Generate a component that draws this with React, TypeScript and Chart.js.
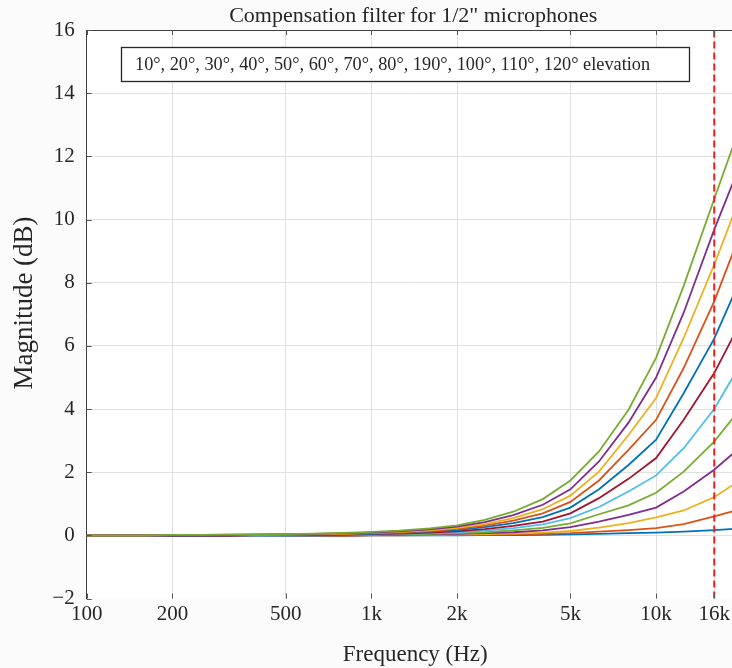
import React, { useEffect, useRef } from 'react';
import { Chart, registerables } from 'chart.js';

Chart.register(...registerables);

// Third-octave centre frequencies (Hz)
const frequencies = [100, 125, 160, 200, 250, 315, 400, 500, 630, 800, 1000, 1250, 1600, 2000, 2500, 3150, 4000, 5000, 6300, 8000, 10000, 12500, 16000, 20000];

const elevationLabels = ['10°', '20°', '30°', '40°', '50°', '60°', '70°', '80°', '190°', '100°', '110°', '120°'];

// Magnitude (dB) per elevation
const mag10 = [0, 0, 0, 0, -0.01, -0.01, -0.01, -0.01, -0.01, -0.01, 0, 0, 0, 0, 0.01, 0.01, 0.02, 0.03, 0.05, 0.07, 0.09, 0.12, 0.17, 0.22];
const mag20 = [0, 0, 0, 0, -0.02, -0.02, -0.02, -0.02, -0.01, -0.01, 0, 0, 0.01, 0.01, 0.02, 0.03, 0.05, 0.07, 0.12, 0.17, 0.23, 0.36, 0.6, 0.84];
const mag30 = [0, 0, 0, -0.02, -0.02, -0.02, -0.02, -0.02, -0.01, 0, 0.01, 0.01, 0.02, 0.03, 0.04, 0.06, 0.09, 0.14, 0.25, 0.39, 0.57, 0.79, 1.21, 1.79];
const mag40 = [0, 0, 0, -0.02, -0.02, -0.02, -0.02, -0.02, -0.01, 0, 0.01, 0.02, 0.03, 0.05, 0.07, 0.1, 0.16, 0.26, 0.44, 0.65, 0.88, 1.39, 2.08, 2.83];
const mag50 = [0, 0, 0, 0, -0.01, -0.01, -0.01, 0, 0, 0.01, 0.02, 0.03, 0.05, 0.07, 0.1, 0.16, 0.24, 0.38, 0.67, 0.95, 1.35, 2.02, 2.97, 4.07];
const mag60 = [0, 0, 0, -0.02, -0.02, -0.02, -0.02, -0.01, 0, 0.01, 0.03, 0.05, 0.07, 0.1, 0.15, 0.23, 0.35, 0.55, 0.9, 1.39, 1.9, 2.76, 4.0, 5.49];
const mag70 = [0, 0, 0, -0.01, -0.01, -0.01, 0, 0, 0.01, 0.02, 0.04, 0.06, 0.09, 0.13, 0.2, 0.3, 0.44, 0.7, 1.18, 1.79, 2.45, 3.66, 5.14, 6.82];
const mag80 = [0, 0, 0, 0, 0, 0.01, 0.01, 0.01, 0.02, 0.03, 0.05, 0.08, 0.12, 0.17, 0.26, 0.39, 0.58, 0.88, 1.46, 2.23, 3.03, 4.5, 6.23, 8.2];
const mag190 = [0, 0, 0, 0.01, 0.01, 0.01, 0.02, 0.02, 0.03, 0.04, 0.07, 0.09, 0.14, 0.21, 0.31, 0.47, 0.7, 1.06, 1.74, 2.71, 3.66, 5.3, 7.41, 9.68];
const mag100 = [0, 0, 0, 0.01, 0.01, 0.01, 0.02, 0.03, 0.04, 0.06, 0.08, 0.11, 0.16, 0.24, 0.36, 0.55, 0.83, 1.26, 2.02, 3.18, 4.35, 6.25, 8.57, 10.85];
const mag110 = [0, 0, 0, 0.01, 0.02, 0.02, 0.03, 0.04, 0.05, 0.07, 0.09, 0.13, 0.19, 0.28, 0.42, 0.64, 0.97, 1.46, 2.34, 3.57, 5.0, 7.05, 9.68, 11.87];
const mag120 = [0, 0, 0, 0.02, 0.02, 0.03, 0.03, 0.04, 0.06, 0.08, 0.11, 0.15, 0.22, 0.32, 0.49, 0.75, 1.15, 1.74, 2.66, 3.98, 5.62, 7.9, 10.65, 13.1];

const series = [mag10, mag20, mag30, mag40, mag50, mag60, mag70, mag80, mag190, mag100, mag110, mag120];

const lineColors = ['#0072BD', '#D95319', '#EDB120', '#7E2F8E', '#77AC30', '#4DBEEE', '#A2142F', '#0072BD', '#D95319', '#EDB120', '#7E2F8E', '#77AC30'];

const cutoffFrequency = 16000;
const xMin = 100;
const xMax = 20000;
const yMin = -2;
const yMax = 16;
const xTickValues = [100, 200, 500, 1000, 2000, 5000, 10000, 16000];
const xTickLabels = ['100', '200', '500', '1k', '2k', '5k', '10k', '16k'];

const titleText = 'Compensation filter for 1/2" microphones';
const legendText = '10°, 20°, 30°, 40°, 50°, 60°, 70°, 80°, 190°, 100°, 110°, 120° elevation';
const xTitle = 'Frequency (Hz)';
const yTitle = 'Magnitude (dB)';

const SERIF = '"Liberation Serif", "Times New Roman", serif';
const TEXT = '#262626';

const decorPlugin = {
  id: 'decor',
  beforeDraw(chart: any) {
    const { ctx, chartArea: a, width, height } = chart;
    ctx.save();
    ctx.fillStyle = '#fbfbfb';
    ctx.fillRect(0, 0, width, height);
    ctx.fillStyle = '#ffffff';
    ctx.fillRect(a.left, a.top, a.right - a.left, a.bottom - a.top);
    ctx.restore();
  },
  afterDraw(chart: any) {
    const { ctx, chartArea: a } = chart;
    const xs = chart.scales.x;
    const ys = chart.scales.y;
    ctx.save();
    // top border
    ctx.strokeStyle = '#404040';
    ctx.lineWidth = 1;
    ctx.beginPath();
    ctx.moveTo(a.left, Math.round(a.top) + 0.5);
    ctx.lineTo(a.right, Math.round(a.top) + 0.5);
    ctx.stroke();
    // inward tick marks
    ctx.strokeStyle = '#555555';
    ctx.beginPath();
    xTickValues.forEach((v) => {
      const px = Math.round(xs.getPixelForValue(v)) + 0.5;
      ctx.moveTo(px, a.top);
      ctx.lineTo(px, a.top + 5);
      ctx.moveTo(px, a.bottom);
      ctx.lineTo(px, a.bottom - 5);
    });
    for (let v = yMin; v <= yMax; v += 2) {
      const py = Math.round(ys.getPixelForValue(v)) + 0.5;
      ctx.moveTo(a.left, py);
      ctx.lineTo(a.left + 5, py);
    }
    ctx.stroke();

    // title
    ctx.fillStyle = TEXT;
    ctx.font = `22px ${SERIF}`;
    ctx.textAlign = 'center';
    ctx.textBaseline = 'middle';
    ctx.fillText(titleText, (a.left + a.right) / 2 - 1, 16);

    // legend box
    ctx.fillStyle = '#ffffff';
    ctx.fillRect(121.5, 47.5, 568, 34);
    ctx.strokeStyle = '#262626';
    ctx.lineWidth = 1.3;
    ctx.strokeRect(121.5, 47.5, 568, 34);
    ctx.fillStyle = TEXT;
    ctx.font = `18.3px ${SERIF}`;
    ctx.textAlign = 'left';
    ctx.fillText(legendText, 135, 65);

    // axis titles
    ctx.textAlign = 'center';
    ctx.font = `23px ${SERIF}`;
    ctx.fillText(xTitle, (a.left + a.right) / 2 + 1, 655);
    ctx.translate(25, 303);
    ctx.rotate(-Math.PI / 2);
    ctx.font = `27px ${SERIF}`;
    ctx.fillText(yTitle, 0, 0);
    ctx.restore();
  },
};

export default function App() {
  const canvasRef = useRef<HTMLCanvasElement | null>(null);

  useEffect(() => {
    const canvas = canvasRef.current;
    if (!canvas) return;

    const datasets: any[] = series.map((vals, i) => ({
      label: elevationLabels[i],
      data: frequencies.map((f, j) => ({ x: f, y: vals[j] })),
      borderColor: lineColors[i],
      backgroundColor: lineColors[i],
      borderWidth: 1.8,
      pointRadius: 0,
      tension: 0,
      fill: false,
      order: series.length - 1 - i,
    }));
    datasets.push({
      label: 'cutoff',
      data: [
        { x: cutoffFrequency, y: yMin },
        { x: cutoffFrequency, y: yMax },
      ],
      borderColor: '#ff1a1a',
      borderWidth: 2,
      borderDash: [7, 4],
      pointRadius: 0,
      fill: false,
      order: -1,
    });

    const chart = new Chart(canvas, {
      type: 'line',
      data: { datasets },
      plugins: [decorPlugin],
      options: {
        responsive: false,
        animation: false,
        devicePixelRatio: 1,
        layout: { padding: { top: 30, left: 0, right: 18.2, bottom: 0 } },
        plugins: {
          legend: { display: false },
          title: { display: false },
          tooltip: { enabled: false },
        },
        scales: {
          x: {
            type: 'logarithmic',
            min: xMin,
            max: xMax,
            afterBuildTicks(scale: any) {
              scale.ticks = xTickValues.map((v) => ({ value: v }));
            },
            afterFit(scale: any) {
              scale.height = 668 - 598.6;
              scale.paddingLeft = 0;
              scale.paddingRight = 0;
            },
            ticks: {
              autoSkip: false,
              maxRotation: 0,
              padding: 3,
              color: TEXT,
              font: { family: SERIF, size: 21 },
              callback(value: any) {
                const idx = xTickValues.indexOf(Number(value));
                return idx >= 0 ? xTickLabels[idx] : '';
              },
            },
            grid: { color: '#e0e0e0', lineWidth: 1, drawTicks: false },
            border: { display: false },
          },
          y: {
            type: 'linear',
            min: yMin,
            max: yMax,
            afterFit(scale: any) {
              scale.width = 86.7;
            },
            ticks: {
              stepSize: 2,
              padding: 12,
              color: TEXT,
              font: { family: SERIF, size: 21 },
              callback(value: any) {
                const v = Number(value);
                return v < 0 ? '\u2212' + Math.abs(v) : String(v);
              },
            },
            grid: {
              drawTicks: false,
              lineWidth: 1,
              color: (ctx: any) => (ctx.tick && ctx.tick.value === yMin ? 'rgba(0,0,0,0)' : '#e0e0e0'),
            },
            border: { display: true, color: '#404040', width: 1 },
          },
        },
      },
    });

    return () => {
      chart.destroy();
    };
  }, []);

  return (
    <div style={{ position: 'absolute', left: 0, top: 0, width: 732, height: 668, overflow: 'hidden' }}>
      <canvas ref={canvasRef} width={760} height={668} style={{ display: 'block', width: 760, height: 668 }} />
    </div>
  );
}
